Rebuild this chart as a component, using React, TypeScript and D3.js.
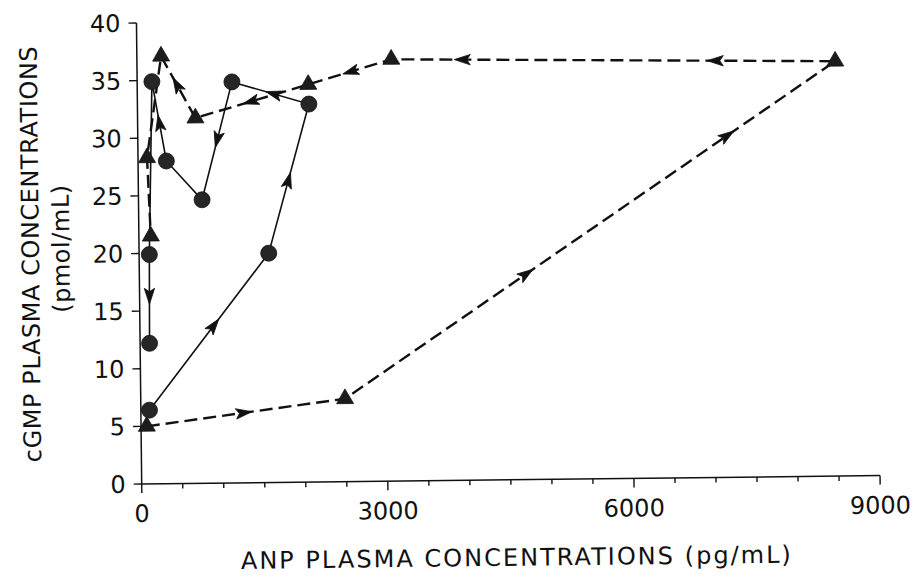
import React from "react";
import * as d3 from "d3";

// Circles: solid trajectory
const ANP_CIRCLE = [105, 1580, 2090, 1155, 775, 345, 180, 125, 115];
const CGMP_CIRCLE = [6.4, 19.9, 32.8, 34.8, 24.6, 28.0, 34.9, 19.9, 12.2];

// Triangles: dashed trajectory
const ANP_TRIANGLE = [70, 2490, 8510, 3100, 2085, 705, 295, 110, 145];
const CGMP_TRIANGLE = [5.0, 7.2, 36.0, 36.6, 34.5, 31.7, 37.1, 28.3, 21.5];

// Direction arrows: [segment start index, fraction along the segment]
const CIRCLE_ARROWS: [number, number][] = [
  [0, 0.54], [1, 0.49], [2, 0.46], [3, 0.49], [5, 0.48], [7, 0.47],
];
const TRIANGLE_ARROWS: [number, number][] = [
  [0, 0.49], [1, 0.37], [1, 0.78], [2, 0.27], [2, 0.84], [3, 0.49], [4, 0.51], [5, 0.54],
];

const X_TICKS = [0, 3000, 6000, 9000];
const Y_TICKS = [0, 5, 10, 15, 20, 25, 30, 35, 40];

const W = 916;
const H = 578;
const OX = 141.7;
const OY = 484;
const INK = "#111";
const FONT = "DejaVu Sans";

export default function App() {
  const x = d3.scaleLinear().domain([0, 9000]).range([OX, OX + 738.4]);
  const y = d3.scaleLinear().domain([0, 40]).range([OY, OY - 461]);
  const minorX = d3.range(0, 9001, 500);

  const circlePts = ANP_CIRCLE.map((v, i) => [x(v), y(CGMP_CIRCLE[i])] as [number, number]);
  const triPts = ANP_TRIANGLE.map((v, i) => [x(v), y(CGMP_TRIANGLE[i])] as [number, number]);
  const line = d3.line();
  const tri = d3.symbol(d3.symbolTriangle, 125)();

  const arrow = (pts: [number, number][], [i, f]: [number, number], key: string) => {
    const [x0, y0] = pts[i];
    const [x1, y1] = pts[i + 1];
    const px = x0 + (x1 - x0) * f;
    const py = y0 + (y1 - y0) * f;
    const a = (Math.atan2(y1 - y0, x1 - x0) * 180) / Math.PI;
    return (
      <path
        key={key}
        d="M8,0 L-8,-5.2 L-4.5,0 L-8,5.2 Z"
        transform={`translate(${px},${py}) rotate(${a})`}
        fill={INK}
        stroke={INK}
        strokeWidth={0.8}
        strokeLinejoin="miter"
      />
    );
  };

  return (
    <svg width={W} height={H} style={{ display: "block", position: "absolute", left: 0, top: 0 }}>
      <rect width={W} height={H} fill="#fff" />
      <g transform={`rotate(-0.65, ${OX}, ${OY})`} fontFamily={FONT} fill={INK}>
        {/* axes */}
        <line x1={OX} y1={y(40)} x2={OX} y2={OY} stroke={INK} strokeWidth={1.5} />
        <line x1={OX} y1={OY} x2={x(9000)} y2={OY} stroke={INK} strokeWidth={1.5} />
        {minorX.map((t) => (
          <line
            key={`mx${t}`}
            x1={x(t)}
            x2={x(t)}
            y1={OY}
            y2={OY + (t % 3000 === 0 ? 9 : 5)}
            stroke={INK}
            strokeWidth={1.4}
          />
        ))}
        {Y_TICKS.map((t) => (
          <line key={`yt${t}`} x1={OX - 8} x2={OX} y1={y(t)} y2={y(t)} stroke={INK} strokeWidth={1.4} />
        ))}
        {X_TICKS.map((t) => (
          <text key={`xl${t}`} x={x(t)} y={OY + 38} textAnchor="middle" fontSize={24}>
            {t}
          </text>
        ))}
        {Y_TICKS.map((t) => (
          <text key={`yl${t}`} x={OX - 16} y={y(t)} dy="0.36em" textAnchor="end" fontSize={24}>
            {t}
          </text>
        ))}

        {/* axis titles */}
        <text x={515} y={570} textAnchor="middle" fontSize={24} textLength={550} lengthAdjust="spacing">
          ANP PLASMA CONCENTRATIONS (pg/mL)
        </text>
        <text
          transform="translate(41.5,253) rotate(-90)"
          textAnchor="middle"
          fontSize={24}
          textLength={416}
          lengthAdjust="spacing"
        >
          cGMP PLASMA CONCENTRATIONS
        </text>
        <text
          transform="translate(72,248) rotate(-90)"
          textAnchor="middle"
          fontSize={24}
          textLength={128}
          lengthAdjust="spacing"
        >
          (pmol/mL)
        </text>

        {/* trajectories */}
        <path d={line(triPts) || ""} fill="none" stroke={INK} strokeWidth={2.4} strokeDasharray="13 6" />
        <path d={line(circlePts) || ""} fill="none" stroke={INK} strokeWidth={1.6} />
        {TRIANGLE_ARROWS.map((a, k) => arrow(triPts, a, `ta${k}`))}
        {CIRCLE_ARROWS.map((a, k) => arrow(circlePts, a, `ca${k}`))}

        {/* markers */}
        {triPts.map(([px, py], i) => (
          <path key={`t${i}`} d={tri || ""} transform={`translate(${px},${py})`} fill="#1c1c1c" stroke={INK} strokeWidth={0.8} />
        ))}
        {circlePts.map(([px, py], i) => (
          <circle key={`c${i}`} cx={px} cy={py} r={8} fill="#262626" stroke={INK} strokeWidth={0.8} />
        ))}
      </g>
    </svg>
  );
}
